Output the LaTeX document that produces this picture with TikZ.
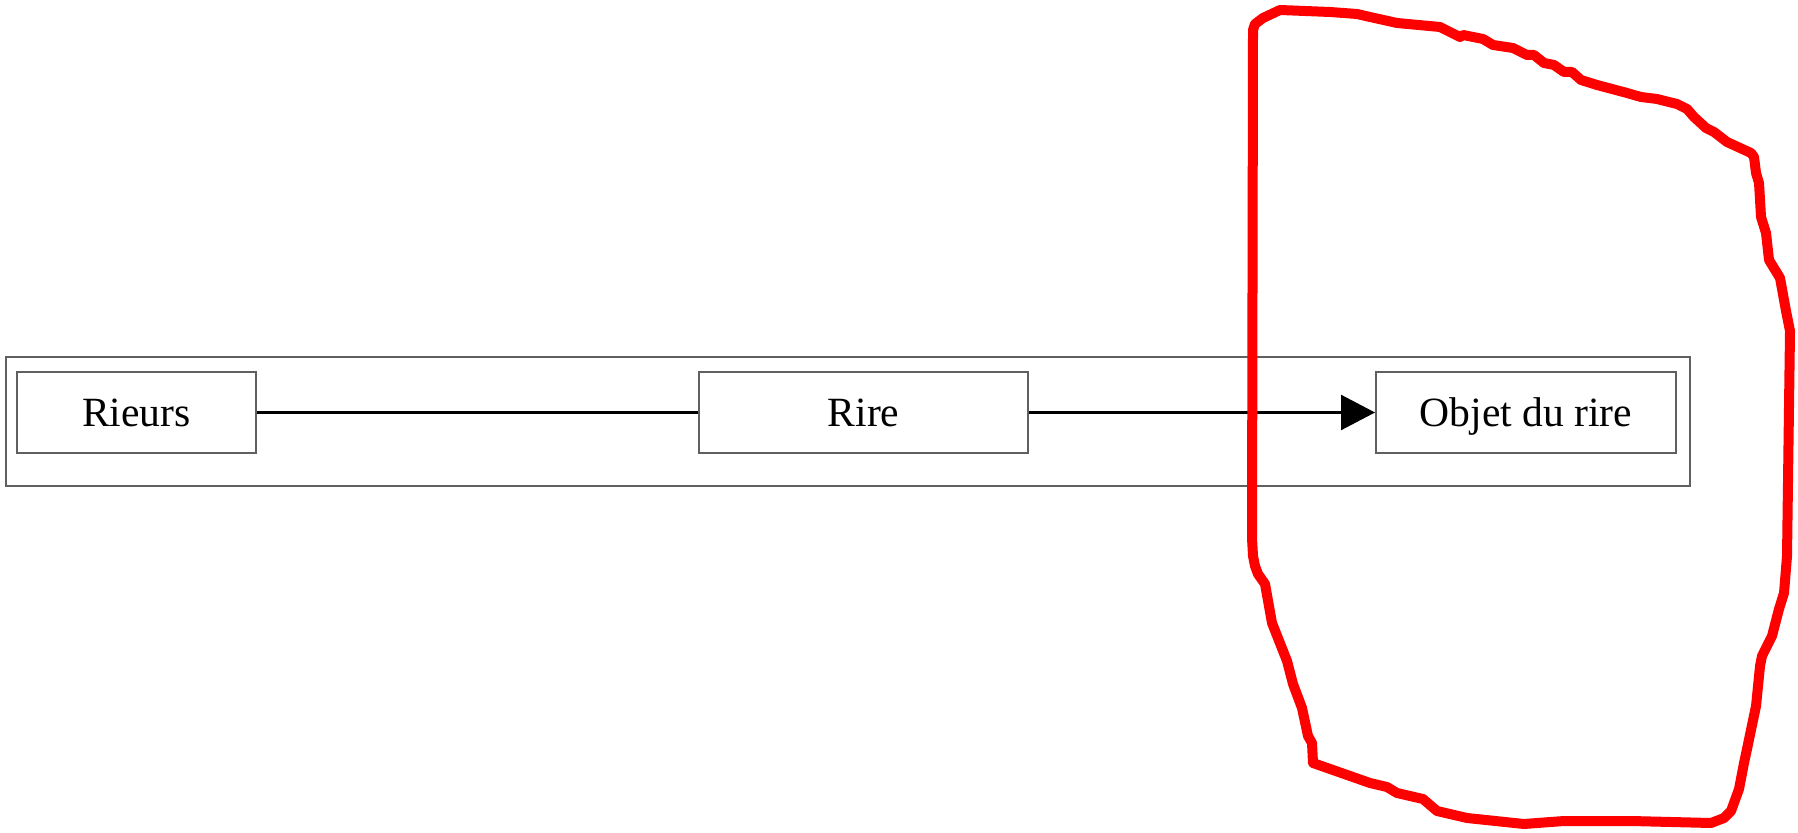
\documentclass[tikz,border=0pt]{standalone}
\usepackage{fontspec}
\setmainfont{Liberation Serif}
\usepackage{xcolor}
\usepackage{tikz}
\usetikzlibrary{arrows.meta, positioning}
\definecolor{boxgray}{RGB}{96, 96, 96}
\definecolor{markred}{RGB}{255, 0, 0}

\begin{document}
\begin{tikzpicture}[x=0.5pt, y=-0.5pt,
        stage/.style={draw=boxgray, line width=1pt, rectangle, inner sep=0pt,
            minimum height=40.5pt, text height=14pt, text depth=0pt,
            font=\fontsize{20.8pt}{24pt}\selectfont},
        link/.style={draw=black, line width=1.2pt}]
    \useasboundingbox (0,0) rectangle (1798,833);
    % outer frame
    \draw[boxgray, line width=1pt] (6,357) rectangle (1690,486);
    \node[stage, minimum width=119.5pt] (rieurs) at (136.5,412.5) {Rieurs};
    \node[stage, minimum width=164.5pt] (rire) at (863.5,412.5) {Rire};
    \node[stage, minimum width=150pt] (objet) at (1526,412.5) {Objet du rire};
    \draw[link] (rieurs) -- (rire);
    \draw[link, -{Triangle[length=17pt, width=17.5pt]}] (rire) -- (objet);
    % hand-drawn red loop
    \draw[markred, line width=5pt, line join=round, line cap=round]
        (1252,538) -- (1253,30) -- (1255,24) -- (1263,18) -- (1280,10) -- (1330,12)
        -- (1357,14) -- (1370,17) -- (1397,23) -- (1440,27) -- (1460,37) -- (1463,35)
        -- (1483,39) -- (1493,45) -- (1513,48) -- (1527,55) -- (1534,55) -- (1544,63)
        -- (1554,65) -- (1564,72) -- (1572,72) -- (1581,80) -- (1597,85) -- (1627,93)
        -- (1641,97) -- (1657,99) -- (1677,104) -- (1687,109) -- (1694,117) -- (1706,128)
        -- (1714,132) -- (1727,142) -- (1751,153) -- (1754,157) -- (1756,173) -- (1759,183)
        -- (1761,217) -- (1766,233) -- (1769,260) -- (1780,278) -- (1786,311) -- (1790,331)
        -- (1787,556) -- (1784,593) -- (1779,609) -- (1772,636) -- (1762,656) -- (1760,666)
        -- (1756,706) -- (1747,749) -- (1744,763) -- (1739,789) -- (1731,811) -- (1724,818)
        -- (1711,823) -- (1631,821) -- (1564,821) -- (1524,824) -- (1467,818) -- (1437,811)
        -- (1423,799) -- (1397,793) -- (1387,787) -- (1370,783) -- (1313,763) -- (1312,743)
        -- (1308,736) -- (1302,708) -- (1293,684) -- (1287,661) -- (1272,623) -- (1265,584)
        -- (1258,574) -- (1255,566) -- (1253,556) -- cycle;
\end{tikzpicture}
\end{document}
